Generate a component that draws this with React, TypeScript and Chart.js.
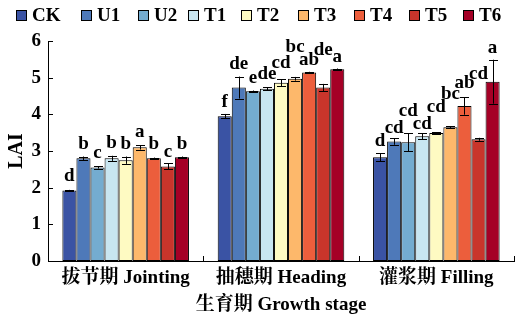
import React, { useEffect, useRef } from "react";
import { Chart, registerables } from "chart.js";

Chart.register(...registerables);

const stages = ["拔节期 Jointing", "抽穗期 Heading", "灌浆期 Filling"];
const treatments = ["CK", "U1", "U2", "T1", "T2", "T3", "T4", "T5", "T6"];
const colors = ["#3a53a4", "#4e79b9", "#74acd0", "#c8e6f1", "#fefac2", "#fdb86b", "#ec5e3c", "#c9352b", "#a50026"];

const lai = [
  [1.92, 3.95, 2.83],
  [2.8, 4.73, 3.26],
  [2.55, 4.63, 3.24],
  [2.8, 4.7, 3.4],
  [2.75, 4.86, 3.49],
  [3.1, 4.97, 3.65],
  [2.8, 5.14, 4.23],
  [2.58, 4.73, 3.32],
  [2.83, 5.23, 4.89],
];
const sd = [
  [0.02, 0.06, 0.11],
  [0.05, 0.3, 0.09],
  [0.03, 0.02, 0.24],
  [0.07, 0.04, 0.08],
  [0.1, 0.1, 0.02],
  [0.06, 0.05, 0.02],
  [0.02, 0.02, 0.24],
  [0.08, 0.1, 0.04],
  [0.02, 0.02, 0.6],
];
const letters = [
  ["d", "f", "d"],
  ["b", "de", "cd"],
  ["c", "e", "cd"],
  ["b", "de", "cd"],
  ["b", "cd", "cd"],
  ["a", "bc", "bc"],
  ["b", "ab", "ab"],
  ["c", "de", "cd"],
  ["b", "a", "a"],
];
const yTicks = [0, 1, 2, 3, 4, 5, 6];

// style: pixel lift of each letter above its error bar
const letterLift = [
  [9, 7, 7],
  [8, 8, 5],
  [8, 8, 17],
  [8, 8, 4],
  [8, 11, 20],
  [8, 25, 27],
  [9, 7, 9],
  [6, 29, 59],
  [8, 7, 7],
];
const legendX = [16, 81, 138, 188, 241, 298, 354, 409, 463];

const FONT = "'Times New Roman', 'Liberation Serif', 'DejaVu Serif', 'Noto Serif CJK SC', 'Noto Sans CJK SC', serif";

const overlay = {
  id: "overlay",
  afterDatasetsDraw(chart: any) {
    const ctx = chart.ctx;
    const y = chart.scales.y;
    const area = chart.chartArea;
    ctx.save();
    ctx.strokeStyle = "#000";
    ctx.lineWidth = 1;
    treatments.forEach((_, d) => {
      const meta = chart.getDatasetMeta(d);
      meta.data.forEach((bar: any, i: number) => {
        const v = lai[d][i];
        const e = sd[d][i];
        const bx = Math.round(bar.x) + 0.5;
        const yt = y.getPixelForValue(v + e);
        const yb = y.getPixelForValue(v - e);
        ctx.beginPath();
        ctx.moveTo(bx, yt);
        ctx.lineTo(bx, yb);
        ctx.moveTo(bx - 4.5, Math.round(yt) + 0.5);
        ctx.lineTo(bx + 4.5, Math.round(yt) + 0.5);
        ctx.moveTo(bx - 4.5, Math.round(yb) + 0.5);
        ctx.lineTo(bx + 4.5, Math.round(yb) + 0.5);
        ctx.stroke();
        ctx.fillStyle = "#000";
        ctx.font = `bold 19px ${FONT}`;
        ctx.textAlign = "center";
        ctx.textBaseline = "alphabetic";
        ctx.fillText(letters[d][i], bar.x, yt - letterLift[d][i]);
      });
    });
    ctx.beginPath();
    yTicks.forEach((t) => {
      if (t === 0) return;
      const py = Math.round(y.getPixelForValue(t)) + 0.5;
      ctx.moveTo(area.left, py);
      ctx.lineTo(area.left + 5, py);
    });
    const n = stages.length;
    for (let k = 0; k <= n; k++) {
      const px = Math.round(area.left + ((area.right - area.left) * k) / n) + 0.5;
      ctx.moveTo(px, area.bottom);
      ctx.lineTo(px, area.bottom - 5);
    }
    ctx.stroke();
    ctx.font = `bold 19px ${FONT}`;
    ctx.textAlign = "left";
    ctx.textBaseline = "middle";
    treatments.forEach((t, d) => {
      const lx = legendX[d];
      ctx.fillStyle = colors[d];
      ctx.fillRect(lx, 10, 10, 10);
      ctx.strokeRect(lx + 0.5, 10.5, 10, 10);
      ctx.fillStyle = "#000";
      ctx.fillText(t, lx + 16, 16);
    });
    ctx.restore();
  },
};

export default function App() {
  const ref = useRef<HTMLCanvasElement>(null);
  useEffect(() => {
    document.body.style.margin = "0";
    const chart = new Chart(ref.current!, {
      type: "bar",
      data: {
        labels: stages,
        datasets: treatments.map((t, d) => ({
          label: t,
          data: lai[d],
          backgroundColor: colors[d],
          borderColor: "#000",
          borderWidth: 1,
          borderSkipped: false,
          categoryPercentage: 0.815,
          barPercentage: 1,
        })),
      },
      options: {
        animation: false,
        responsive: false,
        maintainAspectRatio: false,
        layout: { padding: { top: 41, right: 6, left: 0, bottom: 0 } },
        plugins: { legend: { display: false }, tooltip: { enabled: false } },
        scales: {
          x: {
            grid: { display: false, drawTicks: false },
            border: { display: true, color: "#000", width: 1 },
            ticks: { color: "#000", padding: 6, font: { family: FONT, size: 19, weight: "bold" } },
            title: {
              display: true,
              text: "生育期 Growth stage",
              color: "#000",
              padding: { top: 0, bottom: 6 },
              font: { family: FONT, size: 19, weight: "bold" },
            },
            afterFit: (s: any) => {
              s.height = 61;
            },
          },
          y: {
            min: 0,
            max: 6,
            grid: { display: false, drawTicks: false },
            border: { display: true, color: "#000", width: 1 },
            ticks: {
              stepSize: 1,
              color: "#000",
              padding: 7,
              font: { family: FONT, size: 19, weight: "bold" },
            },
            title: {
              display: true,
              text: "LAI",
              color: "#000",
              padding: { top: 5, bottom: 0 },
              font: { family: FONT, size: 20, weight: "bold" },
            },
            afterFit: (s: any) => {
              s.width = 48;
            },
          },
        },
      },
      plugins: [overlay],
    });
    return () => chart.destroy();
  }, []);
  return (
    <div style={{ position: "fixed", left: 0, top: 0, width: 520, height: 322, background: "#fff" }}>
      <canvas ref={ref} width={520} height={322} style={{ width: 520, height: 322 }} />
    </div>
  );
}
